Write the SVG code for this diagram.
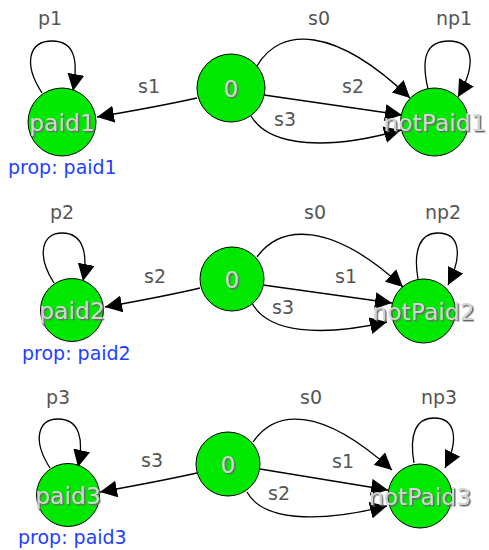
<svg xmlns="http://www.w3.org/2000/svg" width="489" height="550" viewBox="0 0 489 550">
<style>
.n{fill:#00e800;stroke:#000;stroke-width:1}
.t{font-family:"DejaVu Sans",Verdana,sans-serif;font-size:23.5px;text-anchor:middle;fill:#d4d4d4;filter:url(#sh)}
.l{font-family:"DejaVu Sans",Verdana,sans-serif;font-size:19px;fill:#555;text-anchor:middle}
.p{font-family:"DejaVu Sans",Verdana,sans-serif;font-size:19px;fill:#1f3fff}
.e{fill:none;stroke:#000;stroke-width:1.3;marker-end:url(#ah)}
</style>
<defs>
<marker id="ah" markerUnits="userSpaceOnUse" markerWidth="17" markerHeight="17" viewBox="0 0 17 17" refX="17" refY="8.5" orient="auto">
<path d="M0,0 L17,8.5 L0,17 z" fill="#000"/>
</marker>
<filter id="sh" x="-10%" y="-20%" width="130%" height="150%">
<feDropShadow dx="1.5" dy="1.5" stdDeviation="0.3" flood-color="#6a6a6a" flood-opacity="1"/>
</filter>
</defs>
<g id="connectors">
<path class="e" d="M197,98 C170,104 150,108 97,117"/>
<path class="e" d="M257,66 C280,26 335,26 410,98"/>
<path class="e" d="M264,95 L402,115"/>
<path class="e" d="M251,116 C270,148 330,150 401,130"/>
<path class="e" d="M42,93 C22,62 30,41 52,41 C76,41 78,62 73,91"/>
<path class="e" d="M428,89 C420,55 428,41 449,41 C472,41 478,62 458,97"/>
<path class="e" d="M200,288 C175,294 155,298 105,307"/>
<path class="e" d="M257,257 C280,225 330,220 403,287"/>
<path class="e" d="M263,285 L392,303"/>
<path class="e" d="M252,303 C268,333 320,337 387,322"/>
<path class="e" d="M54,283 C36,255 42,233 62,233 C84,233 88,255 83,281"/>
<path class="e" d="M418,279 C413,250 420,233 438,233 C460,233 463,255 448,285"/>
<path class="e" d="M197,473 C170,479 150,483 100,492"/>
<path class="e" d="M253,442 C275,410 320,405 392,470"/>
<path class="e" d="M260,469 L388,490"/>
<path class="e" d="M247,492 C262,520 315,524 387,506"/>
<path class="e" d="M50,468 C32,440 38,419 58,419 C80,419 84,440 78,467"/>
<path class="e" d="M414,463 C409,434 416,418 434,418 C456,418 459,440 445,468"/>
</g>
<g id="edge-labels">
<text class="l" x="50" y="25">p1</text>
<text class="l" x="149" y="93">s1</text>
<text class="l" x="319" y="25">s0</text>
<text class="l" x="353" y="93">s2</text>
<text class="l" x="285" y="126">s3</text>
<text class="l" x="454" y="25">np1</text>
<text class="l" x="62" y="219">p2</text>
<text class="l" x="155" y="283">s2</text>
<text class="l" x="315" y="219">s0</text>
<text class="l" x="346" y="283">s1</text>
<text class="l" x="283" y="314">s3</text>
<text class="l" x="443" y="219">np2</text>
<text class="l" x="58" y="404">p3</text>
<text class="l" x="152" y="467">s3</text>
<text class="l" x="311" y="404">s0</text>
<text class="l" x="343" y="468">s1</text>
<text class="l" x="279" y="500">s2</text>
<text class="l" x="439" y="404">np3</text>
</g>
<g id="paid1">
<circle class="n" cx="62" cy="122" r="34"/>
<text class="t" x="62" y="130.5">paid1</text>
<text class="p" x="8" y="174">prop: paid1</text>
</g>
<g id="s0_1">
<circle class="n" cx="231" cy="88" r="34"/>
<text class="t" x="231" y="96.5">0</text>
</g>
<g id="notPaid1">
<circle class="n" cx="434.5" cy="122" r="34"/>
<text class="t" x="434.5" y="130.5">notPaid1</text>
</g>
<g id="paid2">
<circle class="n" cx="72" cy="310" r="31.5"/>
<text class="t" x="72" y="318.5">paid2</text>
<text class="p" x="22" y="360">prop: paid2</text>
</g>
<g id="s0_2">
<circle class="n" cx="232" cy="279" r="32"/>
<text class="t" x="232" y="287.5">0</text>
</g>
<g id="notPaid2">
<circle class="n" cx="423.5" cy="311" r="32"/>
<text class="t" x="423.5" y="319.5">notPaid2</text>
</g>
<g id="paid3">
<circle class="n" cx="68" cy="495" r="31.5"/>
<text class="t" x="68" y="503.5">paid3</text>
<text class="p" x="18" y="544">prop: paid3</text>
</g>
<g id="s0_3">
<circle class="n" cx="228" cy="464" r="32"/>
<text class="t" x="228" y="472.5">0</text>
</g>
<g id="notPaid3">
<circle class="n" cx="420" cy="496" r="32"/>
<text class="t" x="420" y="504.5">notPaid3</text>
</g>
</svg>
